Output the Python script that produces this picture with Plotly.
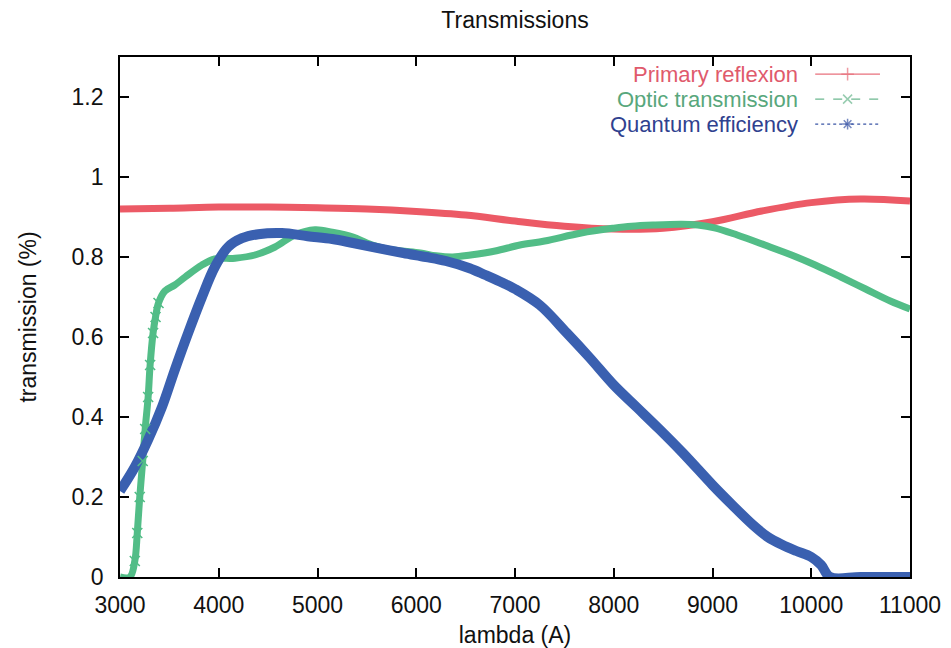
import plotly.graph_objects as go

# ---------------- data ----------------
red_wl = [3000, 3500, 4000, 4500, 5000, 5500, 6000, 6500, 7000, 7500, 8000, 8500,
          9000, 9500, 10000, 10500, 11000]
red_val = [0.920, 0.922, 0.925, 0.925, 0.923, 0.920, 0.914, 0.905, 0.890, 0.877,
           0.870, 0.872, 0.888, 0.915, 0.936, 0.945, 0.940]

green_wl = [3000, 3100, 3150, 3175, 3200, 3230, 3255, 3285, 3305, 3335, 3360, 3390,
            3455, 3555, 3660, 3830, 3960, 4165, 4367, 4570, 4770, 4975,
            5150, 5360, 5500, 5700, 5850, 6040, 6200, 6370, 6550, 6800, 7050,
            7300, 7670, 8000, 8180, 8400, 8690, 8850, 9020, 9250, 9530, 9800, 10040,
            10300, 10550, 10800, 11000]
green_val = [0.0, 0.0, 0.04, 0.11, 0.20, 0.29, 0.37, 0.45, 0.53, 0.61, 0.65, 0.685,
             0.715, 0.73, 0.75, 0.78, 0.795, 0.797, 0.805, 0.825, 0.855, 0.868,
             0.862, 0.85, 0.835, 0.82, 0.815, 0.81, 0.803, 0.80, 0.805, 0.815, 0.83,
             0.84, 0.86, 0.872, 0.877, 0.88, 0.882, 0.88, 0.873, 0.855, 0.83, 0.805, 0.78,
             0.75, 0.72, 0.69, 0.67]

blue_wl = [3000, 3150, 3285, 3425, 3555, 3690, 3830, 3960, 4095, 4235, 4400, 4640,
           4900, 5150, 5360, 5600, 5870, 6100, 6300, 6540, 6700, 6880,
           7000, 7250, 7525, 7750, 8000, 8230, 8460, 8700, 9000, 9200, 9410, 9560,
           9710, 9850, 10000, 10100, 10190, 10500, 11000]
blue_val = [0.215, 0.275, 0.343, 0.425, 0.518, 0.61, 0.70, 0.775, 0.825, 0.847, 0.857, 0.86,
            0.852, 0.845, 0.835, 0.823, 0.81, 0.80, 0.79, 0.772, 0.755, 0.735,
            0.72, 0.68, 0.61, 0.55, 0.48, 0.425, 0.37, 0.31, 0.23, 0.18, 0.13, 0.10,
            0.08, 0.065, 0.05, 0.03, 0.0, 0.0, 0.0]

series_names = ["Primary reflexion", "Optic transmission", "Quantum efficiency"]
x_ticks = [3000, 4000, 5000, 6000, 7000, 8000, 9000, 10000, 11000]
y_ticks = [0, 0.2, 0.4, 0.6, 0.8, 1.0, 1.2]

# ---------------- styles ----------------
FONT = "Liberation Sans, Arial, Helvetica, sans-serif"
FS = 23
band_colors = ["#ec5a66", "#52bd87", "#3a60b0"]
text_colors = ["#e05a6c", "#58a77c", "#2f418f"]
sample_colors = ["#e8707c", "#6cb890", "#3a55a5"]
band_widths = [7, 7, 10]
sym = ["cross-thin", "x-thin", "asterisk-open"]
dashes = ["solid", "dash", "dot"]

fig = go.Figure()

data = [(red_wl, red_val), (green_wl, green_val), (blue_wl, blue_val)]
for i, (wl, val) in enumerate(data):
    fig.add_trace(go.Scatter(
        x=wl, y=val, mode="lines", name=series_names[i], showlegend=False,
        line=dict(color=band_colors[i], width=band_widths[i], shape="spline", smoothing=1.0),
        xaxis="x", yaxis="y",
    ))

# visible 'x' points on the steep rise of the optic transmission
steep = [(w, v) for w, v in zip(green_wl, green_val) if 0 < v < 0.7 and w < 4000]
fig.add_trace(go.Scatter(
    x=[p[0] for p in steep], y=[p[1] for p in steep], mode="markers",
    showlegend=False, hoverinfo="skip",
    marker=dict(symbol="x-thin", size=10, color=band_colors[1],
                line=dict(color=band_colors[1], width=1.6)),
))

# ---------------- gnuplot style key (text left, sample right) ----------------
rows = [0.967, 0.919, 0.871]
for i in range(3):
    fig.add_trace(go.Scatter(
        x=[0.880, 0.921, 0.962], y=[rows[i]] * 3, mode="lines+markers",
        showlegend=False, hoverinfo="skip",
        line=dict(color=sample_colors[i], width=1.3, dash=dashes[i]),
        marker=dict(symbol=sym[i], size=[0, 9, 0], color=sample_colors[i],
                    line=dict(color=sample_colors[i], width=1.5)),
        xaxis="x2", yaxis="y2",
    ))
    fig.add_annotation(
        text=series_names[i], xref="paper", yref="paper", x=0.861, y=rows[i],
        xanchor="right", yanchor="middle", showarrow=False,
        font=dict(family=FONT, size=22, color=text_colors[i]),
    )

axis_common = dict(
    showgrid=False, zeroline=False, showline=True, linecolor="black", linewidth=1.8,
    mirror="ticks", ticks="inside", ticklen=9, tickwidth=1.5, tickcolor="black",
    tickfont=dict(family=FONT, size=FS, color="#111"), automargin=False,
)

fig.update_layout(
    width=951, height=648,
    margin=dict(l=120, r=41, t=57, b=71),
    paper_bgcolor="white", plot_bgcolor="white",
    font=dict(family=FONT, size=FS, color="#111"),
    title=dict(text="Transmissions", x=0.5, xref="paper", xanchor="center",
               y=1 - 20 / 648, yref="container", yanchor="middle",
               font=dict(family=FONT, size=FS, color="#111")),
    xaxis=dict(range=[3000, 11000], tickvals=x_ticks, tickformat="d",
               title=dict(text="lambda (A)", standoff=12,
                          font=dict(family=FONT, size=FS, color="#111")),
               ticklabelstandoff=6, **axis_common),
    yaxis=dict(range=[0, 1.3], tickvals=y_ticks,
               ticktext=["0", "0.2", "0.4", "0.6", "0.8", "1", "1.2"],
               title=dict(text="transmission (%)", standoff=28,
                          font=dict(family=FONT, size=FS, color="#111")),
               ticklabelstandoff=10, **axis_common),
    xaxis2=dict(range=[0, 1], overlaying="x", visible=False, domain=[0, 1]),
    yaxis2=dict(range=[0, 1], overlaying="y", visible=False, domain=[0, 1]),
    showlegend=False,
)

fig.write_html("out.html")
